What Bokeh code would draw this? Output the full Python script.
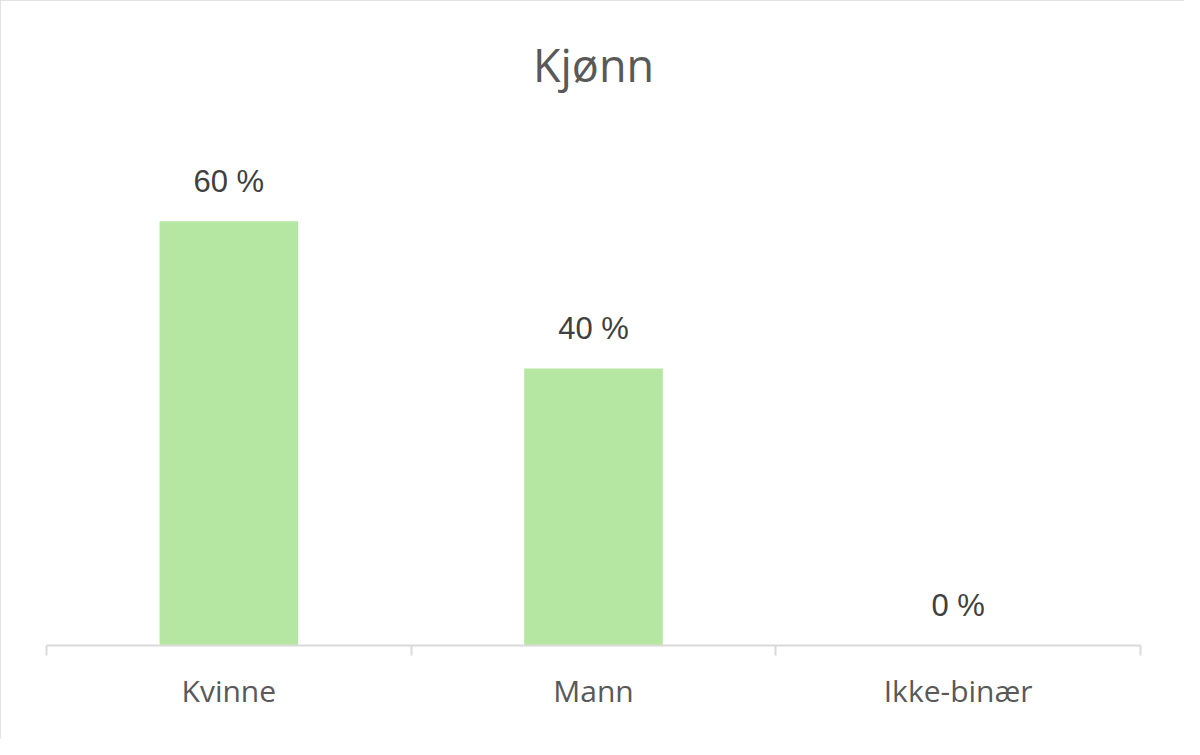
from bokeh.plotting import figure
from bokeh.models import Range1d, FixedTicker, ColumnDataSource, LinearAxis
from bokeh.embed import file_html
from bokeh.resources import INLINE
from bokeh.core.properties import value

title_text = "Kjønn"
categories = ["Kvinne", "Mann", "Ikke-binær"]
shares = [0.605, 0.395, 0.0]
share_labels = ["60 %", "40 %", "0 %"]

n = len(categories)
centers = [i + 0.5 for i in range(n)]
bounds = [float(i) for i in range(n + 1)]

src = ColumnDataSource(dict(x=centers, top=shares, lab=share_labels))

p = figure(width=1184, height=739, output_backend="svg", toolbar_location=None,
           x_range=Range1d(0, n), y_range=Range1d(0, 0.753),
           min_border_left=46, min_border_right=44, min_border_top=117, min_border_bottom=94,
           x_axis_type=None, y_axis_type=None)
p.styles = {"outline": "3px solid #d9d9d9", "outline-offset": "-3px"}
p.outline_line_color = None
p.xgrid.visible = False
p.ygrid.visible = False
p.background_fill_color = "white"
p.border_fill_color = "white"

p.title.text = title_text
p.title.align = "center"
p.title.text_font = "Open Sans"
p.title.text_font_size = "45px"
p.title.text_font_style = "normal"
p.title.text_color = "#595959"
p.title.standoff = 45

ax = LinearAxis(ticker=FixedTicker(ticks=centers, minor_ticks=bounds))
ax.major_label_overrides = {c: lab for c, lab in zip(centers, categories)}
ax.axis_line_color = "#d9d9d9"
ax.axis_line_width = 2
ax.major_tick_line_color = None
ax.major_tick_in = 0
ax.major_tick_out = 0
ax.minor_tick_line_color = "#d9d9d9"
ax.minor_tick_line_width = 2
ax.minor_tick_in = 0
ax.minor_tick_out = 10
ax.major_label_standoff = 14
ax.major_label_text_font = "Open Sans"
ax.major_label_text_font_size = "30px"
ax.major_label_text_color = "#595959"
p.add_layout(ax, "below")

p.vbar(x="x", top="top", bottom=0, width=0.38, source=src,
       fill_color="#b5e6a2", line_color=None)
p.text(x="x", y="top", text="lab", source=src, y_offset=-40,
       text_align="center", text_baseline="alphabetic",
       text_font=value("Liberation Sans"), text_font_size="31px", text_color="#404040")

open("out.html", "w").write(file_html(p, INLINE))
